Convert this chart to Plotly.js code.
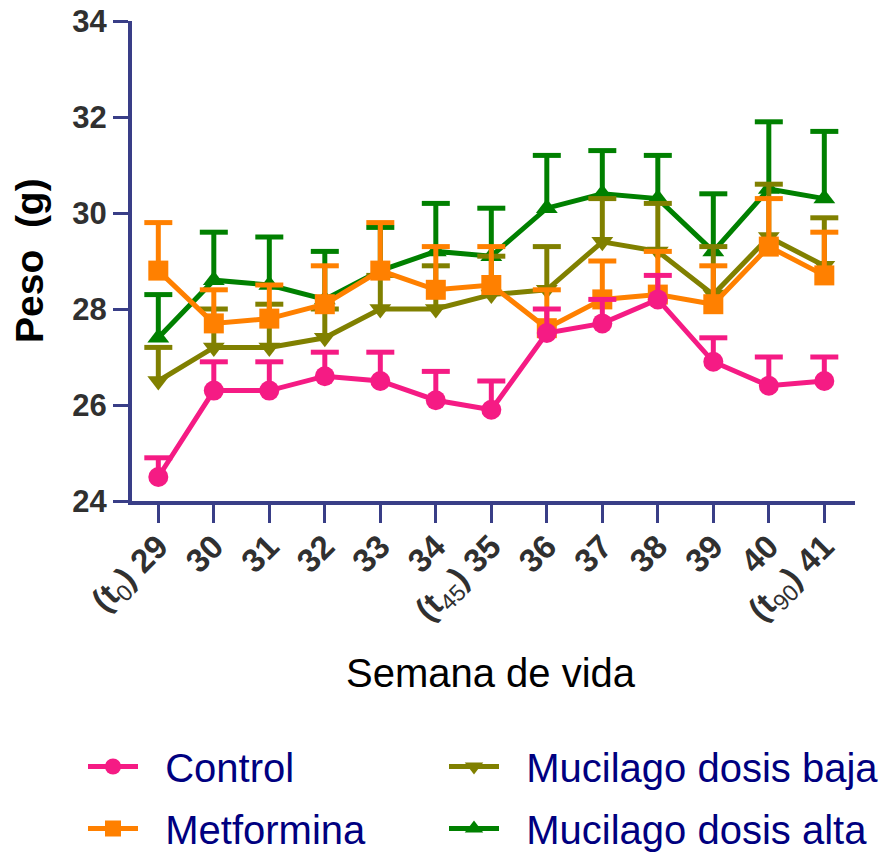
<!DOCTYPE html>
<html>
<head>
<meta charset="utf-8">
<script src="https://cdn.plot.ly/plotly-3.0.1.min.js"></script>
<style>
  html, body { margin: 0; padding: 0; background: #fff; }
  #chart { width: 883px; height: 856px; }
</style>
</head>
<body>
<div id="chart"></div>
<script>
// Semanas de vida y etiquetas del eje x
const weeks = [29, 30, 31, 32, 33, 34, 35, 36, 37, 38, 39, 40, 41];
const weekLabels = [
  "(t<sub><span style='font-weight:normal'>0</span></sub>) 29", "30", "31", "32", "33", "34",
  "(t<sub><span style='font-weight:normal'>45</span></sub>) 35", "36", "37", "38", "39", "40",
  "(t<sub><span style='font-weight:normal'>90</span></sub>) 41"
];

// Peso medio (g) y error estándar por grupo
const controlMean    = [24.5, 26.3, 26.3, 26.6, 26.5, 26.1, 25.9, 27.5, 27.7, 28.2, 26.9, 26.4, 26.5];
const controlSem     = [0.4, 0.6, 0.6, 0.5, 0.6, 0.6, 0.6, 0.5, 0.5, 0.5, 0.5, 0.6, 0.5];

const metforminaMean = [28.8, 27.7, 27.8, 28.1, 28.8, 28.4, 28.5, 27.6, 28.2, 28.3, 28.1, 29.3, 28.7];
const metforminaSem  = [1.0, 0.7, 0.7, 0.8, 1.0, 0.9, 0.8, 0.8, 0.8, 0.9, 0.8, 1.0, 0.9];

const bajaMean       = [26.5, 27.2, 27.2, 27.4, 28.0, 28.0, 28.3, 28.4, 29.4, 29.2, 28.3, 29.5, 28.9];
const bajaSem        = [0.7, 0.8, 0.9, 0.6, 0.7, 0.9, 0.8, 0.9, 0.9, 1.0, 1.0, 1.1, 1.0];

const altaMean       = [27.4, 28.6, 28.5, 28.2, 28.8, 29.2, 29.1, 30.1, 30.4, 30.3, 29.2, 30.5, 30.3];
const altaSem        = [0.9, 1.0, 1.0, 1.0, 0.9, 1.0, 1.0, 1.1, 0.9, 0.9, 1.2, 1.4, 1.4];

const axisColor = "#393E87";
const fontFamily = "Liberation Sans, Arial, Helvetica, sans-serif";
const legendPad = "\u00a0\u00a0";

// Una serie: línea con marcadores, barra de error hacia arriba y su remate horizontal
function series(name, mean, sem, color, symbol, size, legendId, rank) {
  const main = {
    type: "scatter", mode: "lines+markers", name: legendPad + name,
    x: weeks, y: mean,
    legend: legendId, legendgroup: name, legendrank: rank,
    line: { color: color, width: 5 },
    marker: { color: color, symbol: symbol, size: size },
    error_y: {
      type: "data", symmetric: false, array: sem, arrayminus: sem.map(() => 0),
      color: color, thickness: 5, width: 0
    },
    hovertemplate: name + ": %{y} g<extra></extra>"
  };
  const caps = {
    type: "scatter", mode: "markers", name: name,
    x: weeks, y: mean.map((m, i) => m + sem[i]),
    legend: legendId, legendgroup: name, legendrank: rank, showlegend: false,
    marker: { symbol: "line-ew", size: 20, color: color, line: { color: color, width: 5 } },
    hoverinfo: "skip"
  };
  return [main, caps];
}

// Orden de dibujo: de abajo hacia arriba
const data = [].concat(
  series("Mucilago dosis alta", altaMean, altaSem, "#008000", "triangle-up", 19, "legend2", 2),
  series("Mucilago dosis baja", bajaMean, bajaSem, "#808000", "triangle-down", 19, "legend2", 1),
  series("Metformina", metforminaMean, metforminaSem, "#FF8000", "square", 20, "legend", 2),
  series("Control", controlMean, controlSem, "#F51B84", "circle", 20, "legend", 1)
);

const legendCommon = {
  orientation: "v",
  traceorder: "grouped",
  tracegroupgap: 7,
  itemwidth: 50,
  xref: "container", yref: "container",
  xanchor: "left", yanchor: "top",
  bgcolor: "rgba(0,0,0,0)",
  font: { family: fontFamily, size: 40, color: "#000080" }
};

const layout = {
  width: 883, height: 856,
  margin: { l: 132, r: 28, t: 21, b: 355, autoexpand: false },
  paper_bgcolor: "#fff", plot_bgcolor: "#fff",
  showlegend: true,
  hovermode: "closest",
  xaxis: {
    range: [28.526, 41.553],
    tickmode: "array", tickvals: weeks, ticktext: weekLabels,
    tickangle: -45,
    ticks: "outside", ticklen: 18, tickwidth: 3, tickcolor: axisColor,
    ticklabelstandoff: -9,
    showline: true, linecolor: axisColor, linewidth: 4,
    showgrid: false, zeroline: false,
    tickfont: { family: fontFamily, size: 33, color: "#303030", weight: "bold" },
    automargin: false
  },
  yaxis: {
    range: [24, 34],
    tickmode: "linear", tick0: 24, dtick: 2,
    ticks: "outside", ticklen: 15, tickwidth: 3, tickcolor: axisColor,
    showline: true, linecolor: axisColor, linewidth: 4,
    showgrid: false, zeroline: false,
    tickfont: { family: fontFamily, size: 31, color: "#303030", weight: "bold" },
    automargin: false
  },
  legend: Object.assign({}, legendCommon, { x: 83 / 883, y: 1 - 734 / 856 }),
  legend2: Object.assign({}, legendCommon, { x: 444 / 883, y: 1 - 734 / 856 }),
  annotations: [
    {
      text: "Semana de vida", showarrow: false,
      xref: "paper", x: 0.497, yref: "paper", y: (501 - 673) / 480,
      xanchor: "center", yanchor: "middle",
      font: { family: fontFamily, size: 40, color: "#000" }
    },
    {
      text: "Peso\u00a0 (g)", showarrow: false, textangle: -90,
      xref: "paper", x: (29 - 132) / 723, yref: "paper", y: 0.5,
      xanchor: "center", yanchor: "middle",
      font: { family: fontFamily, size: 39, color: "#000", weight: "bold" }
    }
  ]
};

Plotly.newPlot("chart", data, layout, { displayModeBar: false, responsive: false });
</script>
</body>
</html>
